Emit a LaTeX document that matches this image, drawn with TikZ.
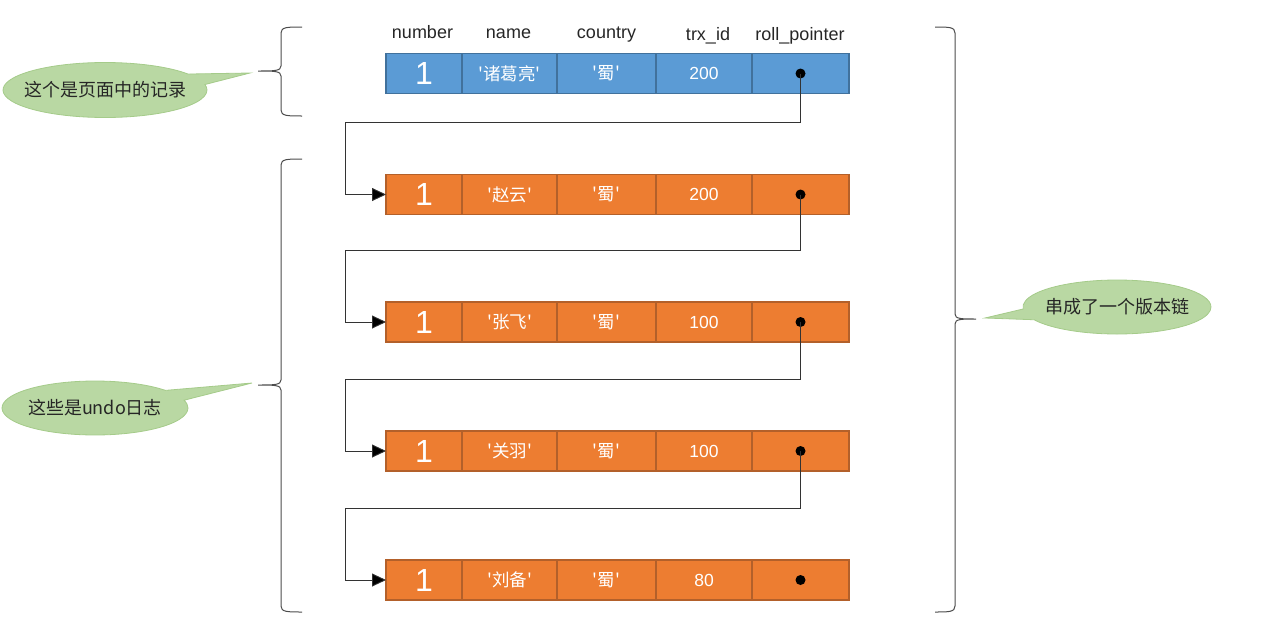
\documentclass[tikz,border=0pt]{standalone}
\usepackage{fontspec}
\setmainfont{Liberation Sans}
\newfontfamily\cjk{Noto Sans CJK SC}
\usepackage{tikz}
\usetikzlibrary{arrows.meta,positioning,calc,shapes.callouts}
\definecolor{recblue}{HTML}{5B9BD5}
\definecolor{recblueline}{HTML}{41719C}
\definecolor{undoorange}{HTML}{ED7D31}
\definecolor{undoline}{HTML}{B3602A}
\definecolor{bubblegreen}{HTML}{B9D8A3}
\definecolor{bubbleline}{HTML}{A5CB8A}
\tikzset{
  cell/.style={draw, line width=1.2pt, minimum height=40pt, inner sep=0pt, outer sep=0pt,
    text=white, font=\fontsize{17.5}{20}\selectfont\cjk},
  head/.style={font=\fontsize{18}{21}\selectfont, text=black!85, anchor=base},
  bubble/.style={ellipse callout, fill=bubblegreen, draw=bubbleline, line width=0.8pt,
    callout pointer arc=24, inner sep=0pt, font=\fontsize{18}{22}\selectfont\cjk, text=black!85},
  curly/.style={draw=black!70, line width=1pt},
  arrow/.style={-{Triangle[length=14pt,width=13pt,fill=black]}, line width=0.9pt, black!80},
}
% brace: end x, line x, tip x, top y, tip y, bottom y
\newcommand\curlybrace[6]{%
  \draw[curly] (#1,#4) .. controls ($(#2,#4)!0.3!(#1,#4)$) and (#2,#4) .. ($(#2,#4)+(0,6)$)
    -- ($(#2,#5)+(0,-5)$) .. controls (#2,#5) and ($(#2,#5)!0.3!(#3,#5)$) .. (#3,#5)
    .. controls ($(#2,#5)!0.3!(#3,#5)$) and (#2,#5) .. ($(#2,#5)+(0,5)$)
    -- ($(#2,#6)+(0,-6)$) .. controls (#2,#6) and ($(#2,#6)!0.3!(#1,#6)$) .. (#1,#6);}

\begin{document}
\begin{tikzpicture}[x=1pt,y=-1pt]
  \useasboundingbox (0,0) rectangle (1264,640);
  % column headers
  \node[head] (hnum) at (422.5,38) {number};
  \node[head] (hname) at (508.5,38) {name};
  \node[head] (hcountry) at (606.5,38) {country};
  \node[head] (htrx) at (708,40.5) {trx\_id};
  \node[head] (hroll) at (800,40.5) {roll\_pointer};
  % records: one row per version
  \foreach \r/\y/\nm/\trx/\fc/\lc in {0/73.5/诸葛亮/200/recblue/recblueline,
      1/194.5/赵云/200/undoorange/undoline, 2/322/张飞/100/undoorange/undoline,
      3/451/关羽/100/undoorange/undoline, 4/580/刘备/80/undoorange/undoline}{
    \node[cell, fill=\fc, draw=\lc, minimum width=76pt, font=\fontsize{32}{34}\selectfont]
      (r\r c1) at (424,\y) {1};
    \node[cell, fill=\fc, draw=\lc, minimum width=95pt, anchor=west] (r\r c2) at (r\r c1.east) {'\nm'};
    \node[cell, fill=\fc, draw=\lc, minimum width=99pt, anchor=west] (r\r c3) at (r\r c2.east) {'蜀'};
    \node[cell, fill=\fc, draw=\lc, minimum width=96pt, anchor=west] (r\r c4) at (r\r c3.east) {\rmfamily\trx};
    \node[cell, fill=\fc, draw=\lc, minimum width=97pt, anchor=west] (r\r c5) at (r\r c4.east) {};
    \fill (r\r c5.center) circle (5);
  }
  % roll_pointer chain
  \foreach \r/\n in {0/1,1/2,2/3,3/4}{
    \draw[arrow] (r\r c5.center) |- ($(r\n c1.west)+(-41,-72)$) |- (r\n c1.west);
  }
  % braces
  \curlybrace{302}{281}{258}{27}{71}{116}
  \curlybrace{302}{281}{258}{159}{385}{612}
  \curlybrace{935}{955}{976}{27}{319}{612}
  % callouts
  \coordinate (tip1) at (250,73);
  \coordinate (tip2) at (252,383);
  \coordinate (tip3) at (985,318);
  \node[bubble, minimum width=204pt, minimum height=55pt, callout absolute pointer={(tip1)}]
    (page) at (105,90) {\makebox[0pt]{这个是页面中的记录}};
  \node[bubble, minimum width=186pt, minimum height=54pt, callout absolute pointer={(tip2)}]
    (undo) at (95,408) {\makebox[0pt]{这些是undo日志}};
  \node[bubble, minimum width=188pt, minimum height=54pt, callout absolute pointer={(tip3)}]
    (chain) at (1117,307) {\makebox[0pt]{串成了一个版本链}};
\end{tikzpicture}
\end{document}
